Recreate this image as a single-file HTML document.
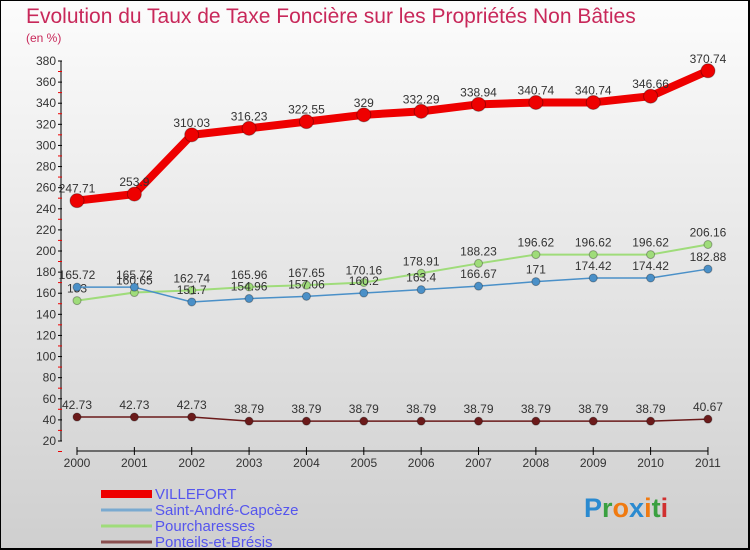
<!DOCTYPE html>
<html><head><meta charset="utf-8"><style>
body{margin:0}
#c{width:750px;height:550px;position:relative;box-sizing:border-box;border:1px solid #000;border-width:1px 2px 2px 1px;background:linear-gradient(#fcfcfc,#cfcfcf);font-family:"Liberation Sans",sans-serif;overflow:hidden}
</style></head><body>
<div id="c">
<svg id="s" width="750" height="550">
<text x="25" y="22" font-size="21" fill="#c8285a">Evolution du Taux de Taxe Foncière sur les Propriétés Non Bâties</text>
<text x="25" y="41" font-size="12" fill="#c8285a">(en %)</text>
</svg>
</div>
<script>
const years=["2000","2001","2002","2003","2004","2005","2006","2007","2008","2009","2010","2011"];
const villefort=[247.71,253.9,310.03,316.23,322.55,329,332.29,338.94,340.74,340.74,346.66,370.74];
const saintAndre=[165.72,165.72,151.7,154.96,157.06,160.2,163.4,166.67,171,174.42,174.42,182.88];
const pourcharesses=[153,160.65,162.74,165.96,167.65,170.16,178.91,188.23,196.62,196.62,196.62,206.16];
const ponteils=[42.73,42.73,42.73,38.79,38.79,38.79,38.79,38.79,38.79,38.79,38.79,40.67];
const yTicks=[20,40,60,80,100,120,140,160,180,200,220,240,260,280,300,320,340,360,380];
const ns="http://www.w3.org/2000/svg",s=document.getElementById('s');
const X=i=>76+i*57.36, Y=v=>440-(v-20)*380/360;
function mk(t,a,p){const e=document.createElementNS(ns,t);for(const k in a)e.setAttribute(k,a[k]);(p||s).appendChild(e);return e;}
let ax=mk('line',{x1:60,y1:60,x2:60,y2:440,stroke:'#000'});


yTicks.forEach(v=>{const y=Y(v);mk('line',{x1:57,x2:61,y1:y,y2:y,stroke:'#000'});mk('line',{x1:57,x2:61,y1:y+10.5,y2:y+10.5,stroke:'#e00'});
const t=mk('text',{x:55,y:y+4,'font-size':12,fill:'#333','text-anchor':'end'});t.textContent=v;

});
let xa=mk('line',{x1:76,y1:450,x2:707,y2:450,stroke:'#000'});


years.forEach((yr,i)=>{mk('line',{x1:X(i),x2:X(i),y1:446,y2:454,stroke:'#000'});
const t=mk('text',{x:X(i),y:466,'font-size':12,fill:'#333','text-anchor':'middle'});t.textContent=yr;

});
function series(d,col,w,r,name,lab){
const g=mk('g',{});


mk('polyline',{points:d.map((v,i)=>X(i)+','+Y(v)).join(' '),fill:'none',stroke:col,'stroke-width':w,'stroke-linejoin':'round'},g);
d.forEach((v,i)=>{const c=mk('circle',{cx:X(i),cy:Y(v),r:r,fill:col,stroke:'rgba(0,0,0,0.3)'},g);


if(lab){const t=mk('text',{x:X(i),y:Y(v)-8,'font-size':12,fill:'#333','text-anchor':'middle'},g);t.textContent=v;

}});}
series(ponteils,'#6b1a1a',1.5,4,'series-ponteils',true);
series(pourcharesses,'#9fdc7a',2,4,'series-pourcharesses',true);
series(saintAndre,'#4a90c8',1.5,4,'series-saint-andre',true);
series(villefort,'#ee0000',8,7,'series-villefort',true);
const leg=[["VILLEFORT","#ee0000",8],["Saint-André-Capcèze","#7aaad0",3],["Pourcharesses","#9fdc7a",3],["Ponteils-et-Brésis","#8a5050",3]];
leg.forEach((l,i)=>{const y=493+i*16;mk('line',{x1:100,x2:151,y1:y,y2:y,stroke:l[1],'stroke-width':l[2]});
const t=mk('text',{x:154,y:y+5,'font-size':15,fill:'#5555ee'});t.textContent=l[0];

});
const logo=mk('text',{x:583,y:516,'font-size':27,'font-weight':'bold'});


[["P","#2a8ad0"],["r","#3aa040"],["o","#f07a10"],["x","#2a8ad0"],["i","#f07a10"],["t","#3aa040"],["i","#d03030"]].forEach(p=>{const ts=mk('tspan',{fill:p[1]},logo);ts.textContent=p[0];});
</script>
</body></html>
